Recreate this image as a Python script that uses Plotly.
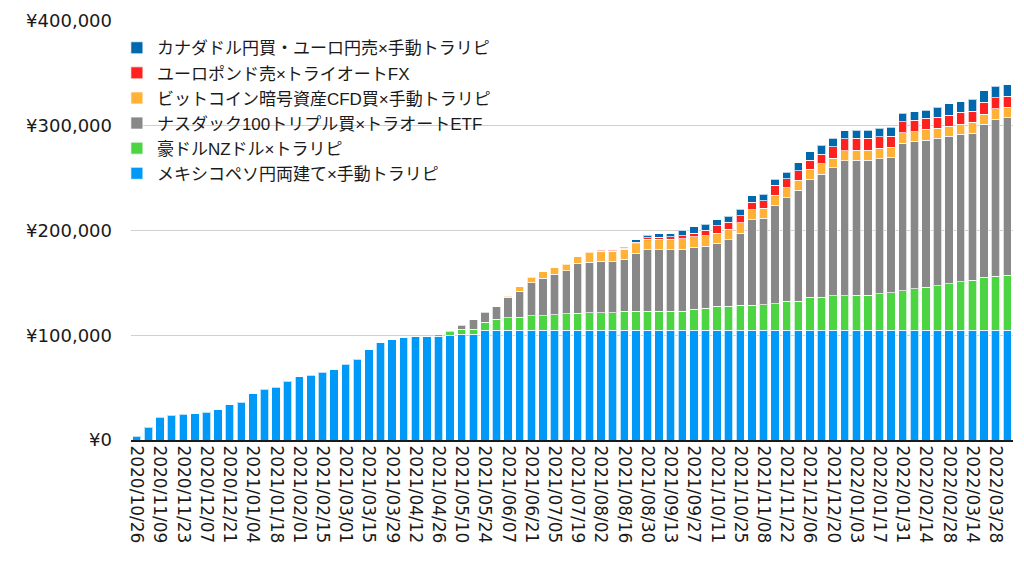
import plotly.graph_objects as go
import pandas as pd

# Weekly categories (every Monday from 2020/10/26)
weeks = [d.strftime("%Y/%m/%d") for d in pd.date_range("2020-10-26", periods=76, freq="7D")]
tick_labels = weeks[::2]

names = [
    "メキシコペソ円両建て×手動トラリピ",
    "豪ドルNZドル×トラリピ",
    "ナスダック100トリプル買×トラオートETF",
    "ビットコイン暗号資産CFD買×手動トラリピ",
    "ユーロポンド売×トライオートFX",
    "カナダドル円買・ユーロ円売×手動トラリピ",
]
colors = ["#0099F7", "#4CD443", "#888888", "#FFB236", "#FF2020", "#0068AD"]

mxn = [3500, 12000, 21500, 23500, 24500, 25000, 26500, 29000, 33500, 36000,
       44000, 48500, 50500, 56000, 60500, 62000, 64500, 67000, 72500, 77000,
       86000, 93000, 95500, 97500, 98500, 98500, 99000, 100000, 101000, 101000,
       105000, 105000, 105000, 105000, 105000, 105000, 105000, 105000, 105000, 105000,
       105000, 105000, 105000, 105000, 105000, 105000, 105000, 105000, 105000, 105000,
       105000, 105000, 105000, 105000, 105000, 105000, 105000, 105000, 105000, 105000,
       105000, 105000, 105000, 105000, 105000, 105000, 105000, 105000, 105000, 105000,
       105000, 105000, 105000, 105000, 105000, 105000]
aud_nzd = [0, 0, 0, 0, 0, 0, 0, 0, 0, 0,
           0, 0, 0, 0, 0, 0, 0, 0, 0, 0,
           0, 0, 0, 0, 0, 0, 1600, 3300, 4500, 4500,
           7600, 10500, 11500, 12100, 13400, 13400, 14600, 15300, 15900, 16500,
           16500, 16500, 17800, 17800, 17800, 17800, 17800, 17800, 20000, 21000,
           22900, 22900, 23600, 23600, 24100, 25100, 27500, 27500, 31500, 31500,
           32700, 32700, 33400, 33400, 34600, 35600, 37500, 39400, 41000, 42300,
           44200, 46100, 47700, 50300, 51500, 52500]
nasdaq = [0, 0, 0, 0, 0, 0, 0, 0, 0, 0,
          0, 0, 0, 0, 0, 0, 0, 0, 0, 0,
          0, 0, 0, 0, 0, 0, 0, 1200, 4100, 9400,
          9500, 11500, 20000, 25100, 31800, 36000, 38800, 41300, 48000, 48400,
          49000, 48900, 49600, 55600, 59000, 59000, 59000, 59400, 59200, 59200,
          59800, 63300, 69000, 81700, 82700, 94200, 98600, 105900, 112300, 117400,
          122100, 128800, 128800, 128800, 128800, 129200, 140600, 140600, 140300, 140600,
          140600, 140600, 140300, 146300, 149800, 150100]
btc = [0, 0, 0, 0, 0, 0, 0, 0, 0, 0,
       0, 0, 0, 0, 0, 0, 0, 0, 0, 0,
       0, 0, 0, 0, 0, 0, 0, 0, 0, 0,
       0, 0, 700, 4100, 5400, 6000, 6000, 6100, 6000, 9300,
       9800, 9700, 9800, 9100, 9700, 9700, 9700, 9800, 10000, 9800,
       9600, 9900, 9800, 9300, 9500, 9300, 9500, 9500, 9500, 9800,
       9300, 9500, 9500, 9500, 9900, 9500, 10100, 9500, 10200, 9500,
       9500, 9500, 10200, 9500, 9800, 9900]
eur_gbp = [0, 0, 0, 0, 0, 0, 0, 0, 0, 0,
           0, 0, 0, 0, 0, 0, 0, 0, 0, 0,
           0, 0, 0, 0, 0, 0, 0, 0, 0, 0,
           0, 0, 0, 0, 0, 0, 0, 0, 0, 0,
           1000, 1000, 1000, 1400, 1700, 2200, 2500, 2900, 3100, 5400,
           7100, 6700, 6700, 7600, 7000, 9500, 9000, 9100, 8900, 9300,
           10800, 11500, 11200, 11200, 11100, 10800, 10500, 10800, 10800, 10500,
           10800, 11500, 10800, 11500, 10500, 10500]
cad_eur = [0, 0, 0, 0, 0, 0, 0, 0, 0, 0,
           0, 0, 0, 0, 0, 0, 0, 0, 0, 0,
           0, 0, 0, 0, 0, 0, 0, 0, 0, 0,
           0, 0, 0, 0, 0, 0, 0, 0, 0, 0,
           0, 0, 1000, 2200, 2100, 3100, 2900, 5400, 6300, 5700,
           5700, 6000, 6100, 6000, 6100, 5700, 6000, 7800, 7900, 8300,
           8000, 7600, 7900, 7900, 8000, 8300, 8000, 7900, 7600, 9800,
           10800, 10100, 11200, 10800, 11200, 11100]

series = [mxn, aud_nzd, nasdaq, btc, eur_gbp, cad_eur]

fig = go.Figure()
for name, vals, col in zip(names, series, colors):
    fig.add_trace(go.Bar(
        x=weeks,
        y=[v if v else None for v in vals],
        name=name,
        marker=dict(color=col, line=dict(color="rgba(255,255,255,0.7)", width=1)),
        hoverinfo="x+y+name",
    ))

fig.update_layout(
    width=1024, height=574,
    barmode="stack",
    bargap=0.28,
    plot_bgcolor="white",
    paper_bgcolor="white",
    margin=dict(l=131, r=11, t=21, b=134),
    font=dict(family="DejaVu Sans, Noto Sans CJK JP", color="#1a1a1a"),
    legend=dict(
        x=-0.016, y=0.978, xanchor="left", yanchor="top",
        traceorder="reversed",
        bgcolor="rgba(0,0,0,0)",
        font=dict(family="Liberation Sans, Noto Sans CJK JP", size=17, color="#1a1a1a"),
    ),
    showlegend=True,
)
fig.update_xaxes(
    type="category",
    tickmode="array", tickvals=tick_labels, ticktext=tick_labels,
    tickangle=90,
    tickfont=dict(size=17),
    showgrid=False,
    showline=True, linecolor="#1a1a1a", linewidth=2,
    ticks="",
)
fig.update_yaxes(
    range=[0, 400000], dtick=100000,
    tickprefix="¥", tickformat=",d",
    tickfont=dict(size=18),
    showgrid=True, gridcolor="#d0d0d0", gridwidth=1,
    zeroline=False, showline=False,
    ticklabelstandoff=18,
)

fig.write_html("out.html", config={"displayModeBar": False},
               post_script="document.body.style.margin='0';")
